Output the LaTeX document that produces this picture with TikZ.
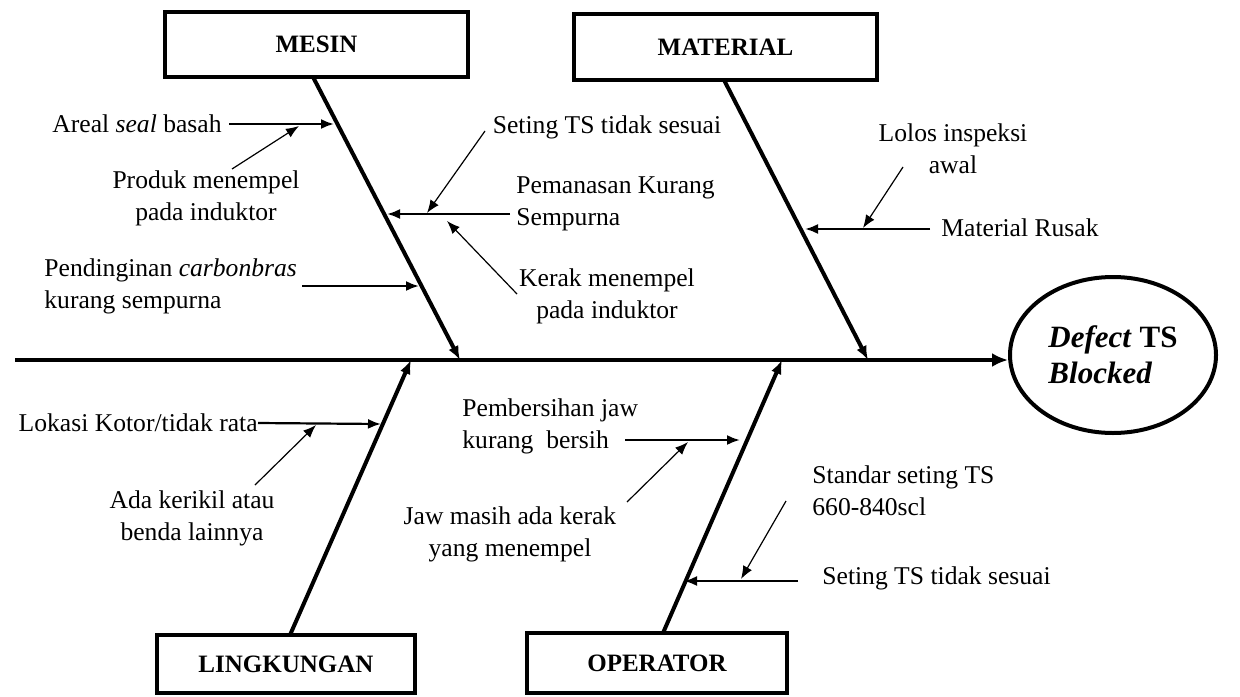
\documentclass[tikz,border=0pt]{standalone}
\usepackage{fontspec}
\setmainfont{Liberation Serif}
\usetikzlibrary{arrows.meta,shapes.geometric}

\begin{document}
\begin{tikzpicture}[x=0.5pt,y=-0.5pt,
  lbl/.style={font=\fontsize{12.8}{16}\selectfont, inner sep=0pt, align=center},
  lbll/.style={lbl, align=left},
  catbox/.style={draw, line width=2pt, inner sep=0pt,
    font=\bfseries\fontsize{12.5}{15}\selectfont},
  effectnode/.style={draw, ellipse, line width=2pt, inner sep=0pt,
    minimum width=103pt, minimum height=78pt, align=left,
    font=\bfseries\fontsize{15.5}{18}\selectfont},
  spine/.style={line width=2.2pt, -{Latex[length=8pt,width=7pt]}},
  bone/.style={line width=2pt, -{Latex[length=7pt,width=5.5pt]}},
  twig/.style={line width=1.1pt, -{Latex[length=6.5pt,width=5pt]}},
  leaf/.style={line width=0.6pt, -{Latex[length=6.5pt,width=5pt]}}]

\useasboundingbox (0,0) rectangle (1240,696);

% category boxes
\node[catbox, minimum width=151.5pt, minimum height=32.5pt] (mesin) at (316.5,44.5) {MESIN};
\node[catbox, minimum width=151.5pt, minimum height=33pt] (material) at (725.5,47) {MATERIAL};
\node[catbox, minimum width=129pt, minimum height=29pt] (lingk) at (286,664) {LINGKUNGAN};
\node[catbox, minimum width=130pt, minimum height=30pt] (oper) at (657,663) {OPERATOR};

% effect
\node[effectnode] (effect) at (1113,355) {\textit{Defect} TS\\\textit{Blocked}};

% spine
\coordinate (spineL) at (15,360);
\draw[spine] (spineL) -- (spineL -| effect.west);

% main bones
\coordinate (mEnd) at (460,360);
\coordinate (tEnd) at (868,360);
\coordinate (lEnd) at (411,360);
\coordinate (oEnd) at (782,360);
\coordinate (mTop) at (313,77);
\coordinate (tTop) at (724,80);
\coordinate (lBot) at (290,635);
\coordinate (oBot) at (663,633);
\draw[bone] (mTop) -- (mEnd);
\draw[bone] (tTop) -- (tEnd);
\draw[bone] (lBot) -- (lEnd);
\draw[bone] (oBot) -- (oEnd);

% MESIN causes
\node[lbl] (areal) at (137,124) {Areal \textit{seal} basah};
\node[lbl] (produk) at (206,198) {Produk menempel\\pada induktor};
\node[lbll, anchor=west] (pendingin) at (44,286) {Pendinginan \textit{carbonbras}\\kurang sempurna};
\node[lbll, anchor=west] (pemanasan) at (516,204) {Pemanasan Kurang\\Sempurna};
\node[lbl] (setingA) at (607,127) {Seting TS tidak sesuai};
\node[lbl] (kerak) at (607,296) {Kerak menempel\\pada induktor};

\coordinate (arealS) at (229,124);
\coordinate (arealE) at (334,124);
\coordinate (produkS) at (232,169);
\coordinate (produkE) at (299,126);
\coordinate (pendS) at (302,286);
\coordinate (pendE) at (419,286);
\coordinate (pemS) at (510,214);
\coordinate (pemE) at (387,214);
\coordinate (setAS) at (485,131);
\coordinate (setAE) at (427,213);
\coordinate (kerakS) at (517,294);
\coordinate (kerakE) at (447,221);

\draw[twig] (arealS) -- (arealE);
\draw[leaf] (produkS) -- (produkE);
\draw[twig] (pendS) -- (pendE);
\draw[twig] (pemS) -- (pemE);
\draw[leaf] (setAS) -- (setAE);
\draw[leaf] (kerakS) -- (kerakE);

% MATERIAL causes
\node[lbl] (lolos) at (953,149) {Lolos inspeksi\\awal};
\node[lbll, anchor=west] (rusak) at (941,228) {Material Rusak};
\coordinate (rusakS) at (930,229);
\coordinate (rusakE) at (805,229);
\coordinate (lolosS) at (903,167);
\coordinate (lolosE) at (863,228);
\draw[twig] (rusakS) -- (rusakE);
\draw[leaf] (lolosS) -- (lolosE);

% LINGKUNGAN causes
\node[lbl, anchor=east] (lokasi) at (258,423) {Lokasi Kotor/tidak rata};
\node[lbl] (kerikil) at (192,518) {Ada kerikil atau\\benda lainnya};
\coordinate (lokasiE) at (381,424);
\coordinate (kerikilS) at (255,485);
\coordinate (kerikilE) at (316,425);
\draw[twig] (lokasi.east) -- (lokasiE);
\draw[leaf] (kerikilS) -- (kerikilE);

% OPERATOR causes
\node[lbll, anchor=west] (pembersihan) at (462,426) {Pembersihan jaw\\kurang\ \ bersih};
\node[lbl] (jaw) at (510,534) {Jaw masih ada kerak\\yang menempel};
\node[lbll, anchor=west] (standar) at (812,491) {Standar seting TS\\660-840scl};
\node[lbll, anchor=west] (setingB) at (822,578) {Seting TS tidak sesuai};
\coordinate (pembS) at (625,440);
\coordinate (pembE) at (740,440);
\coordinate (jawS) at (627,502);
\coordinate (jawE) at (688,442);
\coordinate (setBS) at (798,581);
\coordinate (setBE) at (684,581);
\coordinate (stdS) at (786,501);
\coordinate (stdE) at (741,579);
\draw[twig] (pembS) -- (pembE);
\draw[leaf] (jawS) -- (jawE);
\draw[twig] (setBS) -- (setBE);
\draw[leaf] (stdS) -- (stdE);

\end{tikzpicture}
\end{document}
